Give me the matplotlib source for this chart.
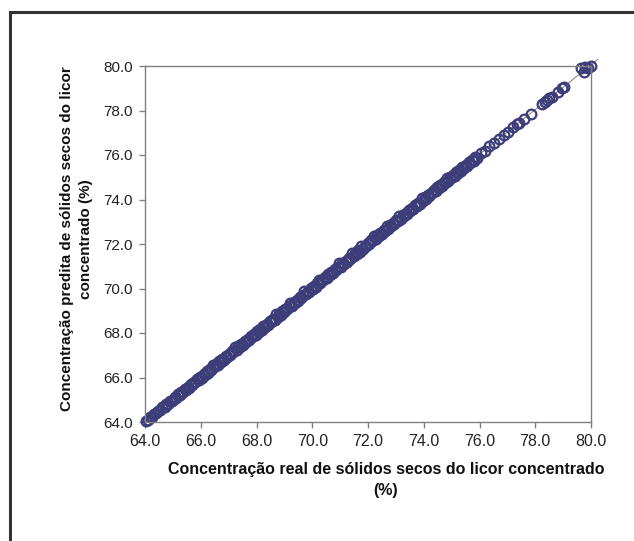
import matplotlib
matplotlib.use("Agg")
import matplotlib.pyplot as plt
from matplotlib.patches import Rectangle

# real (x) vs predicted (y) concentration
real = [
    64.02, 64.10, 64.18, 64.25, 64.33, 64.41, 64.47, 64.55, 64.62, 64.70,
    64.76, 64.83, 64.90, 64.96, 65.02, 65.08, 65.13, 65.19, 65.25, 65.30,
    65.36, 65.42, 65.47, 65.53, 65.59, 65.64, 65.70, 65.76, 65.81, 65.87,
    65.93, 65.98, 66.04, 66.10, 66.15, 66.21, 66.27, 66.32, 66.38, 66.44,
    66.49, 66.55, 66.61, 66.66, 66.72, 66.78, 66.83, 66.89, 66.95, 67.00,
    67.06, 67.12, 67.17, 67.23, 67.29, 67.34, 67.40, 67.46, 67.51, 67.57,
    67.63, 67.68, 67.74, 67.80, 67.85, 67.91, 67.97, 68.02, 68.08, 68.14,
    68.19, 68.25, 68.31, 68.36, 68.42, 68.48, 68.53, 68.59, 68.65, 68.70,
    68.76, 68.82, 68.87, 68.93, 68.99, 69.04, 69.10, 69.16, 69.21, 69.27,
    69.33, 69.38, 69.44, 69.50, 69.55, 69.61, 69.67, 69.72, 69.78, 69.84,
    69.89, 69.95, 70.01, 70.06, 70.12, 70.18, 70.23, 70.29, 70.35, 70.40,
    70.46, 70.52, 70.57, 70.63, 70.69, 70.74, 70.80, 70.86, 70.91, 70.97,
    71.03, 71.08, 71.14, 71.20, 71.25, 71.31, 71.37, 71.42, 71.48, 71.54,
    71.59, 71.65, 71.71, 71.76, 71.82, 71.88, 71.93, 71.99, 72.05, 72.10,
    72.16, 72.22, 72.27, 72.33, 72.39, 72.44, 72.50, 72.56, 72.61, 72.67,
    72.73, 72.78, 72.84, 72.90, 72.95, 73.01, 73.07, 73.12, 73.18, 73.24,
    73.29, 73.35, 73.41, 73.46, 73.52, 73.58, 73.63, 73.69, 73.75, 73.80,
    73.86, 73.92, 73.97, 74.03, 74.09, 74.14, 74.20, 74.26, 74.31, 74.37,
    74.43, 74.48, 74.54, 74.60, 74.65, 74.71, 74.77, 74.82, 74.88, 74.94,
    74.99, 75.05, 75.11, 75.16, 75.22, 75.28, 75.33, 75.39, 75.45, 75.50,
    75.56, 75.62, 75.67, 75.73, 75.79, 75.84, 75.90, 76.05, 76.20, 76.35,
    76.52, 76.70, 76.88, 77.02, 77.20, 77.35, 77.42, 77.60, 77.85, 78.25,
    78.35, 78.42, 78.50, 78.60, 78.80, 78.95, 79.02, 79.65, 79.75, 79.80,
    79.90, 80.00,
]
predicted = [
    64.05, 64.08, 64.21, 64.22, 64.36, 64.39, 64.50, 64.53, 64.66, 64.68,
    64.80, 64.81, 64.93, 64.95, 65.00, 65.12, 65.10, 65.24, 65.21, 65.35,
    65.33, 65.47, 65.44, 65.58, 65.55, 65.70, 65.66, 65.80, 65.78, 65.93,
    65.88, 66.04, 66.00, 66.15, 66.11, 66.27, 66.22, 66.38, 66.34, 66.58,
    66.45, 66.60, 66.56, 66.72, 66.68, 66.83, 66.79, 66.95, 66.90, 67.06,
    67.02, 67.17, 67.13, 67.39, 67.24, 67.40, 67.35, 67.51, 67.47, 67.63,
    67.58, 67.74, 67.70, 67.85, 67.81, 67.97, 67.92, 68.08, 68.04, 68.19,
    68.15, 68.31, 68.26, 68.42, 68.38, 68.53, 68.49, 68.65, 68.60, 68.86,
    68.72, 68.87, 68.83, 68.99, 68.94, 69.10, 69.06, 69.21, 69.37, 69.23,
    69.38, 69.34, 69.50, 69.45, 69.61, 69.57, 69.72, 69.88, 69.74, 69.89,
    69.85, 70.01, 69.96, 70.12, 70.08, 70.23, 70.40, 70.25, 70.40, 70.36,
    70.52, 70.47, 70.63, 70.59, 70.74, 70.70, 70.86, 70.81, 70.97, 71.13,
    70.98, 71.14, 71.10, 71.25, 71.21, 71.37, 71.32, 71.58, 71.44, 71.59,
    71.55, 71.71, 71.66, 71.92, 71.78, 71.93, 71.89, 72.05, 72.00, 72.16,
    72.12, 72.37, 72.23, 72.39, 72.34, 72.50, 72.46, 72.61, 72.57, 72.83,
    72.68, 72.84, 72.80, 72.95, 72.91, 73.07, 73.02, 73.28, 73.14, 73.29,
    73.25, 73.41, 73.36, 73.52, 73.48, 73.63, 73.59, 73.75, 73.70, 73.86,
    73.82, 74.08, 73.93, 74.09, 74.04, 74.20, 74.16, 74.31, 74.27, 74.43,
    74.38, 74.54, 74.50, 74.65, 74.61, 74.77, 74.72, 74.98, 74.84, 74.99,
    74.95, 75.11, 75.06, 75.22, 75.18, 75.33, 75.29, 75.45, 75.40, 75.56,
    75.52, 75.67, 75.63, 75.79, 75.74, 75.90, 75.86, 76.10, 76.18, 76.40,
    76.55, 76.72, 76.92, 77.05, 77.24, 77.38, 77.45, 77.62, 77.85, 78.30,
    78.40, 78.48, 78.55, 78.62, 78.85, 79.00, 79.05, 79.92, 79.75, 79.95,
    79.90, 80.00,
]
ticks = [64.0, 66.0, 68.0, 70.0, 72.0, 74.0, 76.0, 78.0, 80.0]

plt.rcParams['font.family'] = ['Liberation Sans', 'DejaVu Sans']

fig = plt.figure(figsize=(6.34, 5.41), dpi=100)
ax = fig.add_axes([145 / 634, 1 - 422 / 541, 446 / 634, 356 / 541])

# outer frame around the whole chart
fig.patches.append(Rectangle((9.5 / 634, -0.05), 1.1, 0.05 + 1 - 12.5 / 541,
                             transform=fig.transFigure, fill=False,
                             edgecolor='#333333', linewidth=2.2))

# y = x reference line
ax.plot([64.0, 80.25], [64.0, 80.3], color='#8a8a8a', linewidth=0.8,
        clip_on=False, zorder=1)
ax.plot(real, predicted, linestyle='none', marker='o', markersize=7,
        markerfacecolor='none', markeredgecolor='#3d3d7a', markeredgewidth=1.6,
        clip_on=False, zorder=2)

ax.set_xlim(64, 80)
ax.set_ylim(64, 80)
ax.set_xticks(ticks)
ax.set_yticks(ticks)
ax.set_xticklabels(['%.1f' % t for t in ticks])
ax.set_yticklabels(['%.1f' % t for t in ticks])
for s in ax.spines.values():
    s.set_color('#808080')
    s.set_linewidth(1.0)
ax.tick_params(direction='out', length=4, width=1, color='#808080',
               labelcolor='#222222', pad=5)
ax.tick_params(axis='x', labelsize=11.5)
ax.tick_params(axis='y', labelsize=11)

ax.set_xlabel('Concentração real de sólidos secos do licor concentrado\n(%)',
              fontsize=11.5, fontweight='bold', color='#111111', linespacing=1.5)
ax.xaxis.set_label_coords(0.54, -0.113, transform=ax.transAxes)
ax.xaxis.label.set_va('top')
ax.set_ylabel('Concentração predita de sólidos secos do licor\nconcentrado (%)',
              fontsize=11, fontweight='bold', color='#111111', linespacing=1.45)
ax.yaxis.set_label_coords(-0.117, 0.515, transform=ax.transAxes)

fig.savefig('out.png', dpi=100)
